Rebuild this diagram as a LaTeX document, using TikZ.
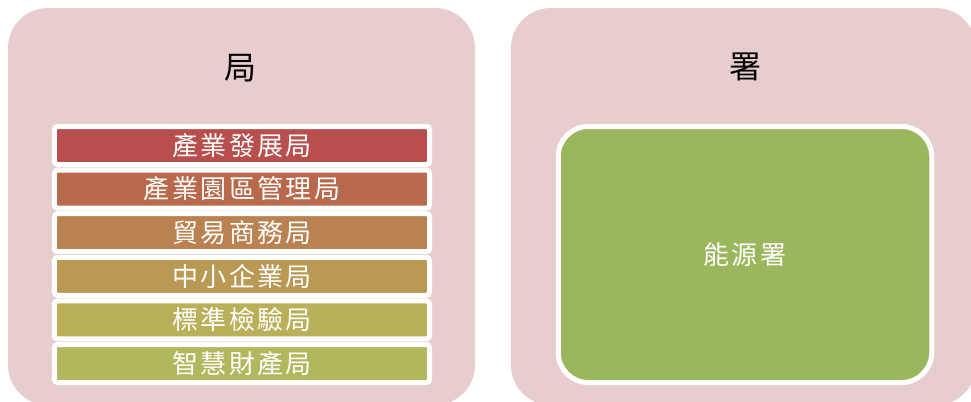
\documentclass[tikz,border=0pt]{standalone}
\usepackage{fontspec}
\newfontfamily\cjk{Noto Sans CJK TC}
\newfontfamily\cjksp[LetterSpace=9]{Noto Sans CJK TC}
\definecolor{pinkbg}{HTML}{E8CDCE}
\definecolor{barA}{HTML}{B94F4D}
\definecolor{barB}{HTML}{B8694B}
\definecolor{barC}{HTML}{BA8251}
\definecolor{barD}{HTML}{BA9955}
\definecolor{barE}{HTML}{BBB05A}
\definecolor{barF}{HTML}{B0B75C}
\definecolor{greenbox}{HTML}{9BB75D}
\tikzset{
  outerbox/.style={fill=pinkbg, draw=none, rounded corners=40bp},
  titletext/.style={text=black, font=\cjk\fontsize{32bp}{36bp}\selectfont, inner sep=0pt},
  barbox/.style={draw=white, line width=5bp, rounded corners=3bp, minimum width=375bp, minimum height=38bp, inner sep=0pt, text=white, font=\cjksp\fontsize{26bp}{30bp}\selectfont},
  bigbox/.style={draw=white, line width=5bp, rounded corners=30bp, fill=greenbox, minimum width=373.5bp, minimum height=256bp, inner sep=0pt, text=white, font=\cjksp\fontsize{26bp}{30bp}\selectfont}
}
\begin{document}
\begin{tikzpicture}[x=1bp, y=-1bp]
\clip (0,0) rectangle (971,401);
\fill[white] (0,0) rectangle (971,401);
% outer containers
\path[outerbox] (8,8) rectangle (475,405);
\path[outerbox] (511,8) rectangle (976,405);
% titles
\node[titletext] (tju) at (240,68) {局};
\node[titletext] (tshu) at (745,67) {署};
% bars
\node[barbox, fill=barA] (b1) at (242,145.5) {產業發展局};
\node[barbox, fill=barB] (b2) at (242,189.1) {產業園區管理局};
\node[barbox, fill=barC] (b3) at (242,232.7) {貿易商務局};
\node[barbox, fill=barD] (b4) at (242,276.3) {中小企業局};
\node[barbox, fill=barE] (b5) at (242,319.9) {標準檢驗局};
\node[barbox, fill=barF] (b6) at (242,363.5) {智慧財產局};
% energy
\node[bigbox] (energy) at (745,254.5) {能源署};
\end{tikzpicture}
\end{document}
